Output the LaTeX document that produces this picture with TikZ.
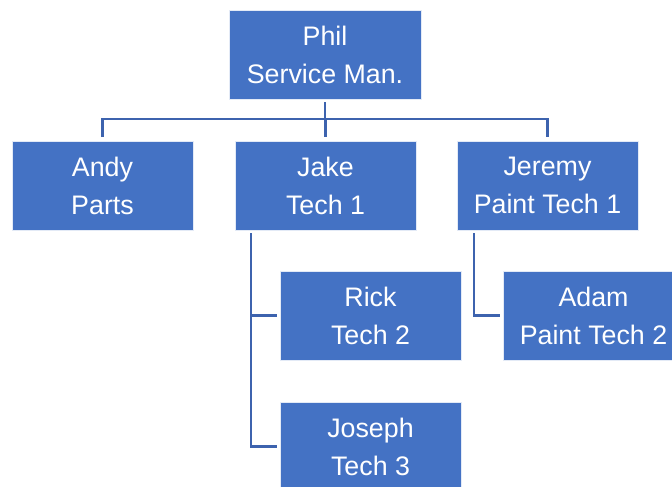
\documentclass[tikz,border=0pt]{standalone}
\usepackage{fontspec}
\setmainfont{Liberation Sans}
\usetikzlibrary{calc}
\definecolor{boxblue}{HTML}{4472C4}
\definecolor{linkblue}{HTML}{3D63AE}
\begin{document}
\begin{tikzpicture}[x=1pt,y=-1pt,
  person/.style={rectangle, fill=boxblue, draw=white!85!boxblue, line width=0.8pt,
    minimum width=181pt, minimum height=89pt, inner sep=0pt, outer sep=0pt,
    text=white, align=center, font=\fontsize{26.8}{38}\selectfont},
  conn/.style={draw=linkblue, line width=2.6pt}]
  \useasboundingbox (0,0) rectangle (672,487);
  \clip (0,0) rectangle (672,487);

  % staff boxes
  \node[person, minimum width=192pt] (phil) at (325,54.5) {Phil\\Service Man.};
  \node[person] (andy)   at (102.5,185.5) {Andy\\Parts};
  \node[person] (jake)   at (325.5,185.5) {Jake\\Tech 1};
  \node[person] (jeremy) at (547.5,185.5) {Jeremy\\Paint Tech 1};
  \node[person] (rick)   at (370.5,315.5) {Rick\\Tech 2};
  \node[person] (joseph) at (370.5,446.5) {Joseph\\Tech 3};
  \node[person] (adam)   at (593.5,315.5) {Adam\\Paint Tech 2};

  % helper points for the connector runs
  \coordinate (bar) at (0,119);
  \coordinate (jakeline) at (251,233);
  \coordinate (jeremyline) at (474,233);

  % top level
  \draw[conn] ([yshift=-3pt]phil.south) -- (phil.south |- bar);
  \draw[conn] ([yshift=4pt]andy.north) -- (andy.north |- bar) -| ([yshift=4pt]jeremy.north);
  \draw[conn] (jake.north |- bar) -- ([yshift=4pt]jake.north);

  % Jake's team
  \draw[conn] (jakeline) |- ([xshift=-3pt]joseph.west);
  \draw[conn] (jakeline |- rick.west) -- ([xshift=-3pt]rick.west);

  % Jeremy's team
  \draw[conn] (jeremyline) |- ([xshift=-3pt]adam.west);
\end{tikzpicture}
\end{document}
